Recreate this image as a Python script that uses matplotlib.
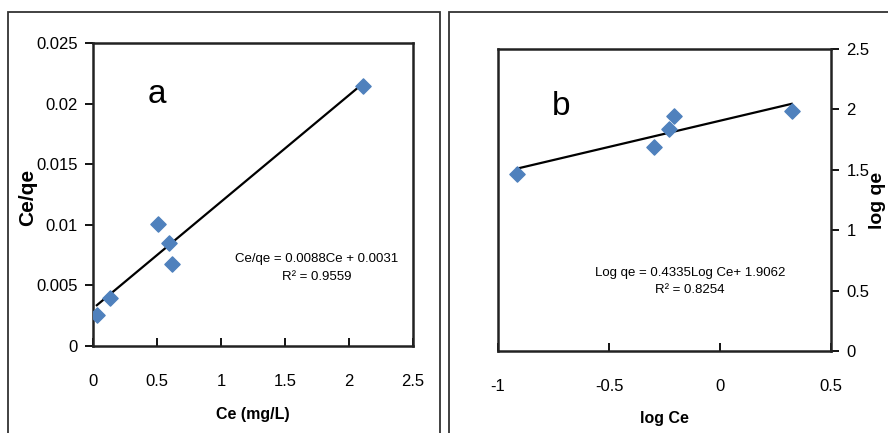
import matplotlib
matplotlib.use("Agg")
import matplotlib.pyplot as plt
import numpy as np
from matplotlib.patches import Rectangle

plt.rcParams['font.family'] = ['Liberation Sans', 'DejaVu Sans']

# Langmuir plot (a)
ce = [0.03, 0.13, 0.505, 0.595, 0.617, 2.11]
ce_qe = [0.00256, 0.00393, 0.01004, 0.00847, 0.00674, 0.02148]
slope_a, icept_a = 0.0088, 0.0031

# Freundlich plot (b)
log_ce = [-0.914, -0.299, -0.230, -0.209, 0.323]
log_qe = [1.465, 1.691, 1.838, 1.945, 1.987]
slope_b, icept_b = 0.4335, 1.9062

blue = '#4f81bd'
W, H = 888, 433

fig = plt.figure(figsize=(8.88, 4.33), dpi=100)

# outer chart borders
fig.patches.append(Rectangle((8/W, -0.1), 432/W, 1.1 - 12/H, transform=fig.transFigure,
                             fill=False, ec='#333333', lw=1.3))
fig.patches.append(Rectangle((449/W, -0.1), 0.5, 1.1 - 12/H, transform=fig.transFigure,
                             fill=False, ec='#333333', lw=1.3))

ax1 = fig.add_axes([93/W, 1 - 346/H, 320/W, 303/H])
ax2 = fig.add_axes([498/W, 1 - 351/H, 333/W, 302/H])

# --- panel a ---
ax1.scatter(ce, ce_qe, marker='D', s=60, color=blue, zorder=3)
xf = np.array([min(ce), max(ce)])
ax1.plot(xf, slope_a*xf + icept_a, color='black', lw=1.6, zorder=2)
ax1.set_xlim(0, 2.5)
ax1.set_ylim(0, 0.025)
ax1.set_xticks([0, 0.5, 1, 1.5, 2, 2.5])
ax1.set_xticklabels(['0', '0.5', '1', '1.5', '2', '2.5'])
ax1.set_yticks([0, 0.005, 0.01, 0.015, 0.02, 0.025])
ax1.set_yticklabels(['0', '0.005', '0.01', '0.015', '0.02', '0.025'])
ax1.tick_params(axis='x', direction='in', length=6, width=1.3, pad=20, labelsize=12)
ax1.tick_params(axis='y', direction='out', length=6, width=1.3, pad=5, labelsize=12)
ax1.text(0.20, 0.83, 'a', transform=ax1.transAxes, fontsize=24, ha='center', va='center')
ax1.text(0.70, 0.257, 'Ce/qe = 0.0088Ce + 0.0031\nR² = 0.9559', transform=ax1.transAxes,
         fontsize=9.5, ha='center', va='center', linespacing=1.6)

# --- panel b ---
ax2.scatter(log_ce, log_qe, marker='D', s=60, color=blue, zorder=3)
xf = np.array([min(log_ce), max(log_ce)])
ax2.plot(xf, slope_b*xf + icept_b, color='black', lw=1.6, zorder=2)
ax2.set_xlim(-1, 0.5)
ax2.set_ylim(0, 2.5)
ax2.set_xticks([-1, -0.5, 0, 0.5])
ax2.set_xticklabels(['-1', '-0.5', '0', '0.5'])
ax2.set_yticks([0, 0.5, 1, 1.5, 2, 2.5])
ax2.set_yticklabels(['0', '0.5', '1', '1.5', '2', '2.5'])
ax2.yaxis.tick_right()
ax2.tick_params(axis='x', direction='in', length=6, width=1.3, pad=20, labelsize=12)
ax2.tick_params(axis='y', direction='out', length=6, width=1.3, pad=5, labelsize=12)
ax2.text(0.19, 0.81, 'b', transform=ax2.transAxes, fontsize=24, ha='center', va='center')
ax2.text(0.577, 0.23, 'Log qe = 0.4335Log Ce+ 1.9062\nR² = 0.8254', transform=ax2.transAxes,
         fontsize=9.5, ha='center', va='center', linespacing=1.6)

for ax in (ax1, ax2):
    for sp in ax.spines.values():
        sp.set_linewidth(1.8)
        sp.set_color('#222222')

fig.text(28/W, 1 - 197/H, 'Ce/qe', rotation=90, fontsize=15, fontweight='bold',
         ha='center', va='center')
fig.text(253/W, 1 - 414/H, 'Ce (mg/L)', fontsize=11.5, fontweight='bold', ha='center', va='center')
fig.text(664/W, 1 - 418/H, 'log Ce', fontsize=11.5, fontweight='bold', ha='center', va='center')
fig.text(877/W, 1 - 200/H, 'log qe', rotation=90, fontsize=14, fontweight='bold',
         ha='center', va='center')

fig.savefig('out.png', dpi=100)
